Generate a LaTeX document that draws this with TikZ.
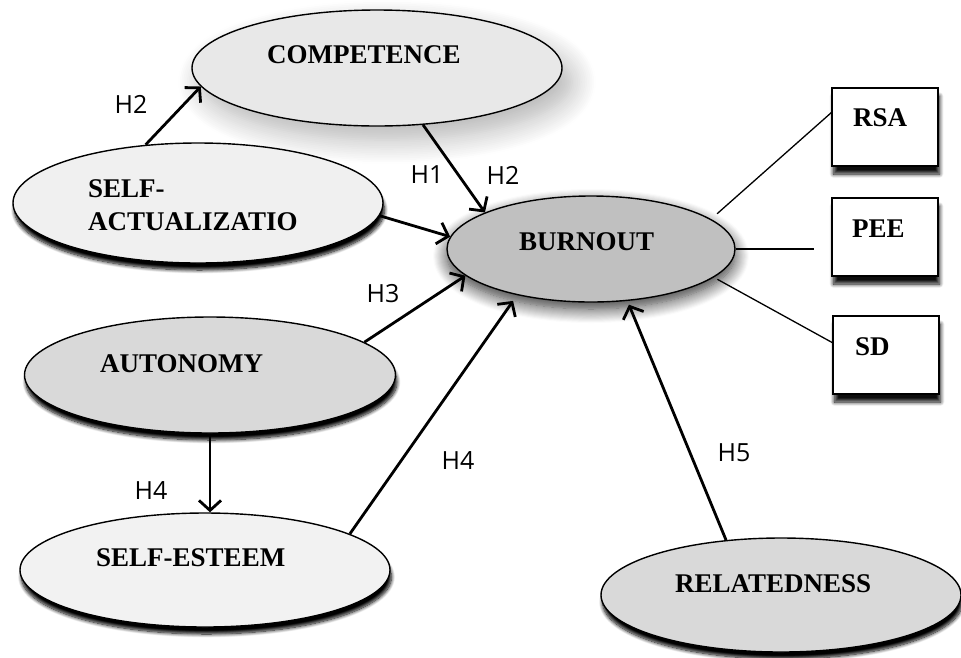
\documentclass[tikz,border=0pt]{standalone}
\usepackage{fontspec}
\setmainfont{Liberation Serif}
\newfontfamily\labfont{Open Sans}
\usetikzlibrary{shapes.geometric,arrows.meta,shadows.blur,calc}
\definecolor{fcomp}{HTML}{E8E8E8}
\definecolor{fsa}{HTML}{F0F0F0}
\definecolor{fburn}{HTML}{C0C0C0}
\definecolor{fauto}{HTML}{D9D9D9}
\definecolor{fse}{HTML}{F2F2F2}
\definecolor{frel}{HTML}{D9D9D9}
\tikzset{
  ell/.style={ellipse, draw=black, line width=1.4pt, inner sep=0pt},
  dshadow/.style={blur shadow={shadow xshift=1.5pt, shadow yshift=-7pt, shadow blur radius=3.5pt, shadow blur steps=10, shadow opacity=100}},
  boxn/.style={rectangle, draw=black, line width=1.4pt, fill=white, inner sep=0pt, minimum width=106pt, minimum height=78pt,
     blur shadow={shadow xshift=1.5pt, shadow yshift=-8pt, shadow blur radius=4pt, shadow blur steps=10, shadow opacity=95}},
  elltxt/.style={anchor=base west, inner sep=0pt, font=\fontsize{27}{30}\selectfont\bfseries},
  htxt/.style={inner sep=0pt, font=\labfont\fontsize{25}{28}\selectfont},
  arr/.style={line width=2.8pt, -{Straight Barb[length=10pt,width=22pt,line width=2.8pt]}},
  thinl/.style={line width=1.3pt}
}
\begin{document}
\begin{tikzpicture}[x=1pt,y=1pt]
\useasboundingbox (0,0) rectangle (961,-657);
% ellipses
\node[ell, fill=fcomp, minimum width=370pt, minimum height=116pt,
  blur shadow={shadow xshift=10pt, shadow yshift=-14pt, shadow blur radius=24pt, shadow blur steps=14, shadow opacity=30}] (comp) at (377,-68) {};
\node[ell, fill=fsa, dshadow, minimum width=370pt, minimum height=120pt] (sa) at (198,-203) {};
\node[ell, fill=fburn, minimum width=288pt, minimum height=106pt,
  blur shadow={shadow xshift=0pt, shadow yshift=-7pt, shadow blur radius=14pt, shadow blur steps=14, shadow opacity=80}] (burn) at (591,-249) {};
\node[ell, fill=fauto, dshadow, minimum width=371pt, minimum height=116pt] (auto) at (210,-375) {};
\node[ell, fill=fse, dshadow, minimum width=370pt, minimum height=114pt] (se) at (205,-570) {};
\node[ell, fill=frel, dshadow, minimum width=360pt, minimum height=114pt] (rel) at (781,-595) {};
% boxes
\node[boxn] (rsa) at (885,-127) {};
\node[boxn] (pee) at (885,-237) {};
\node[boxn] (sd) at (886,-355) {};
% texts
\node[elltxt] (tcomp) at (267,-63) {COMPETENCE};
\node[elltxt] (tsa1) at (88,-197) {SELF-};
\node[elltxt] (tsa2) at (88,-230) {ACTUALIZATIO};
\node[elltxt] (tburn) at (519,-250) {BURNOUT};
\node[elltxt] (tauto) at (100,-372) {AUTONOMY};
\node[elltxt] (tse) at (96,-566) {SELF-ESTEEM};
\node[elltxt] (trel) at (675,-592) {RELATEDNESS};
\node[elltxt] (trsa) at (853,-126) {RSA};
\node[elltxt] (tpee) at (852,-237) {PEE};
\node[elltxt] (tsd) at (855,-355) {SD};
% hypothesis labels
\node[htxt] (h2a) at (131,-104.5) {H2};
\node[htxt] (h1) at (427,-175) {H1};
\node[htxt] (h2b) at (503,-175) {H2};
\node[htxt] (h3) at (383,-294) {H3};
\node[htxt] (h4a) at (151,-491) {H4};
\node[htxt] (h4b) at (458,-461) {H4};
\node[htxt] (h5) at (734,-453) {H5};
% arrows
\draw[arr] (sa.132) -- (comp.186);
\draw[arr] (comp.-51) -- (burn.161.6);
\draw[arr] (sa.-4.3) -- (burn.175);
\draw[arr] (auto.12) -- (burn.192.5);
\draw[arr, shorten >=7pt] (se.14) -- (burn.212);
\draw[arr, shorten >=4pt] (rel.135) -- (burn.-55);
\draw[arr] (auto.south) -- (auto.south |- se.north);
% indicator lines
\draw[thinl, shorten <=8pt] (burn.14) -- (rsa.165);
\draw[thinl, shorten >=17pt] (burn.east) -- (burn.east -| pee.west);
\draw[thinl, shorten <=4pt] (burn.-13) -- (sd.167);
\end{tikzpicture}
\end{document}
